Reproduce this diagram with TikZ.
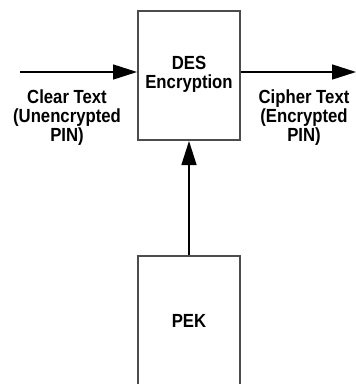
\documentclass[tikz,border=0pt]{standalone}
\usepackage{fontspec}
\setmainfont[FakeStretch=0.88]{Liberation Sans}
\usetikzlibrary{arrows.meta}
\begin{document}
\begin{tikzpicture}[x=1pt,y=-1pt,
  blk/.style={draw=black!70,line width=2pt,minimum width=102pt,inner sep=0pt},
  lbl/.style={align=center,font=\fontsize{19}{19}\selectfont\bfseries,inner sep=0pt},
  arr/.style={line width=1.5pt,-{Triangle[length=24pt,width=15pt]}}]
\useasboundingbox (0,0) rectangle (356,384);
\node[blk,minimum height=129pt,anchor=north] (des) at (189,10) {};
\node[lbl] (destxt) at (189,74) {DES\\Encryption};
\node[blk,minimum height=130pt,anchor=north] (pek) at (189,255) {};
\node[lbl] at (pek.center) {PEK};
\coordinate (in) at (20,72);
\coordinate (out) at (356,72);
\draw[arr] (in) -- (des.west|-in);
\draw[arr] (des.east|-out) -- (out);
\draw[arr] (pek.north) -- (des.south);
\node[lbl] (clear) at (67,118) {Clear Text\\(Unencrypted\\PIN)};
\node[lbl] (cipher) at (304,118) {Cipher Text\\(Encrypted\\PIN)};
\end{tikzpicture}
\end{document}
